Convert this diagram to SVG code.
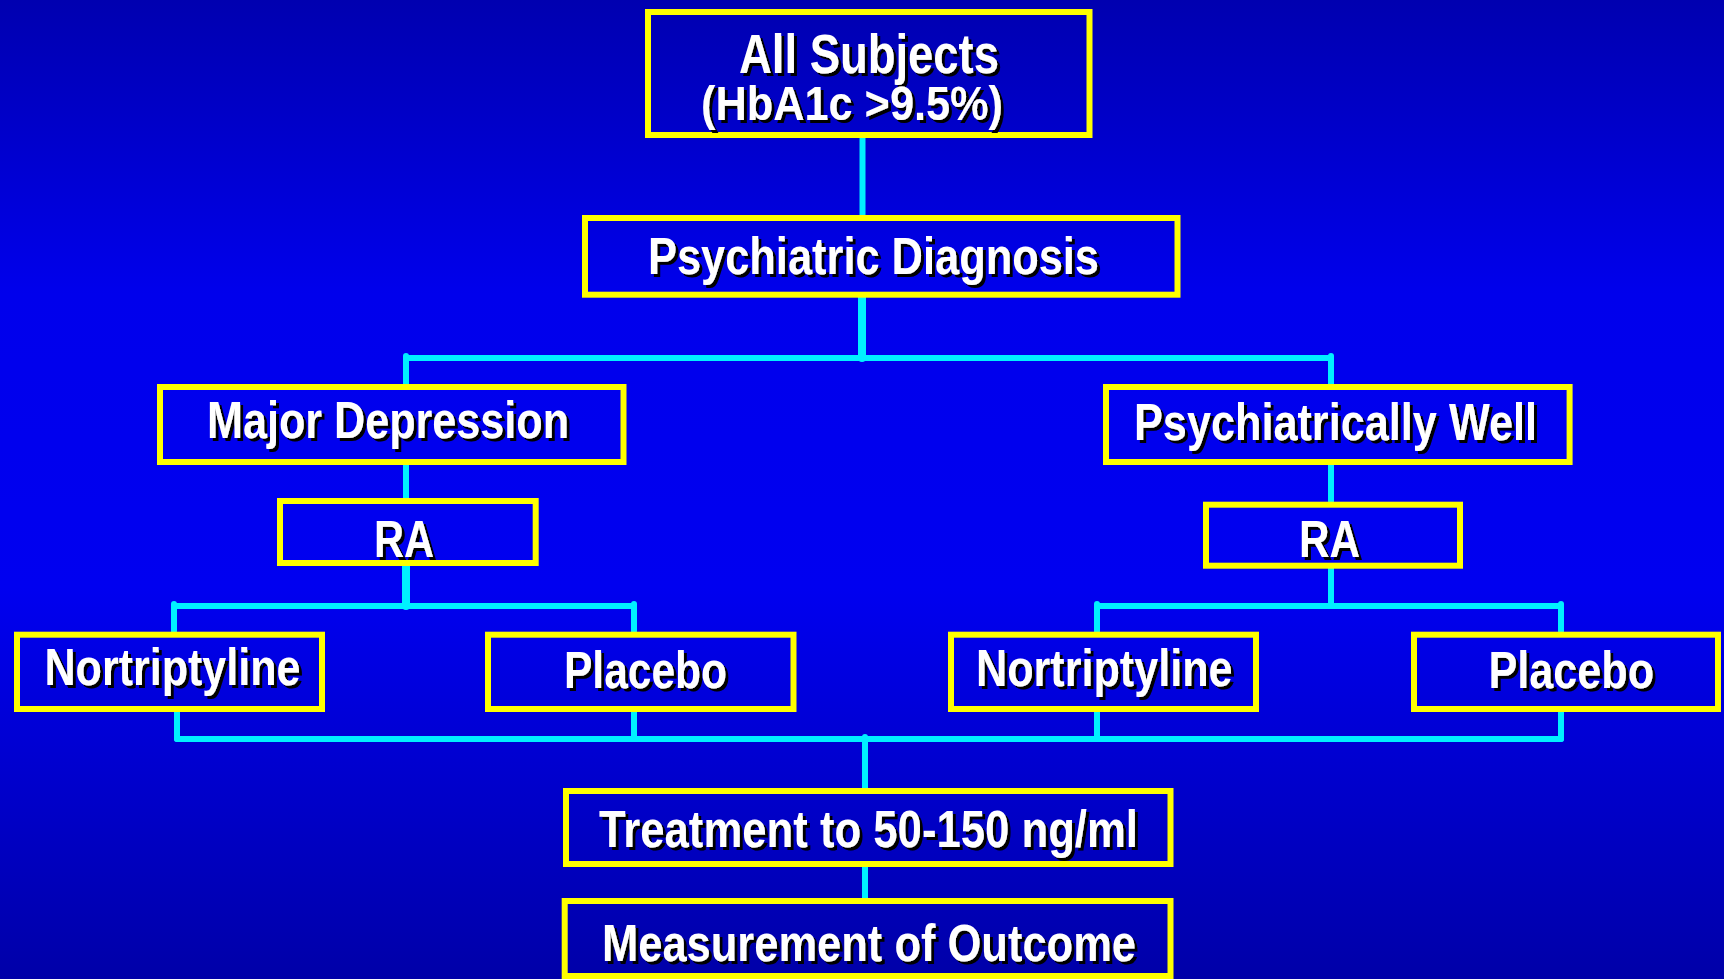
<svg xmlns="http://www.w3.org/2000/svg" width="1724" height="979" viewBox="0 0 1724 979">
  <defs>
    <linearGradient id="bg" x1="0" y1="0" x2="0" y2="1">
      <stop offset="0" stop-color="#0000B0"/>
      <stop offset="0.3" stop-color="#0000EC"/>
      <stop offset="0.6" stop-color="#0000F0"/>
      <stop offset="1" stop-color="#0000A8"/>
    </linearGradient>
    <filter id="sh" x="-10%" y="-20%" width="130%" height="150%">
      <feDropShadow dx="3" dy="3" stdDeviation="0" flood-color="#000000" flood-opacity="1"/>
    </filter>
    <style>
      .box { fill: none; stroke: #FFFF00; stroke-width: 6; }
      .lbl { font-family: "Liberation Sans Narrow", "Liberation Sans", Arial, sans-serif; font-weight: bold; fill: #FFFFFF; filter: url(#sh); }
      .c { stroke: #00F0FF; stroke-width: 6; stroke-linecap: round; fill: none; }
      .t { stroke-width: 8; }
    </style>
  </defs>
  <rect x="0" y="0" width="1724" height="979" fill="url(#bg)"/>

  <g id="connectors">
    <line class="c" x1="862.5" y1="138" x2="862.5" y2="215"/>
    <line class="c t" x1="862" y1="297" x2="862" y2="358"/>
    <line class="c" x1="406" y1="358" x2="1331" y2="358"/>
    <line class="c" x1="406" y1="356" x2="406" y2="384"/>
    <line class="c" x1="1331" y1="356" x2="1331" y2="384"/>
    <line class="c" x1="406" y1="465" x2="406" y2="498"/>
    <line class="c" x1="1331" y1="465" x2="1331" y2="501"/>
    <line class="c t" x1="406" y1="566" x2="406" y2="606"/>
    <line class="c" x1="174" y1="606" x2="634" y2="606"/>
    <line class="c" x1="174" y1="604" x2="174" y2="631"/>
    <line class="c" x1="634" y1="604" x2="634" y2="631"/>
    <line class="c" x1="1331" y1="568" x2="1331" y2="606"/>
    <line class="c" x1="1097" y1="606" x2="1561" y2="606"/>
    <line class="c" x1="1097" y1="604" x2="1097" y2="631"/>
    <line class="c" x1="1561" y1="604" x2="1561" y2="631"/>
    <line class="c" x1="177" y1="712" x2="177" y2="739"/>
    <line class="c" x1="634" y1="712" x2="634" y2="739"/>
    <line class="c" x1="1097" y1="712" x2="1097" y2="739"/>
    <line class="c" x1="1561" y1="712" x2="1561" y2="739"/>
    <line class="c" x1="177" y1="739" x2="1561" y2="739"/>
    <line class="c" x1="865" y1="737" x2="865" y2="788"/>
    <line class="c" x1="865" y1="867" x2="865" y2="900"/>
  </g>

  <g id="all-subjects">
    <rect class="box" x="648" y="12" width="441.5" height="123"/>
    <text class="lbl"><tspan x="739" y="73" font-size="56" textLength="260" lengthAdjust="spacingAndGlyphs">All Subjects</tspan><tspan x="701" y="120" font-size="49" textLength="302" lengthAdjust="spacingAndGlyphs">(HbA1c &gt;9.5%)</tspan></text>
  </g>

  <g id="psychiatric-diagnosis">
    <rect class="box" x="585" y="218" width="592.5" height="76.7"/>
    <text class="lbl" x="648" y="274" font-size="52" textLength="451" lengthAdjust="spacingAndGlyphs">Psychiatric Diagnosis</text>
  </g>

  <g id="major-depression">
    <rect class="box" x="160" y="387" width="463.5" height="75"/>
    <text class="lbl" x="207" y="438" font-size="52" textLength="362" lengthAdjust="spacingAndGlyphs">Major Depression</text>
  </g>

  <g id="psychiatrically-well">
    <rect class="box" x="1106" y="387" width="463.6" height="75"/>
    <text class="lbl" x="1134" y="440" font-size="52" textLength="403" lengthAdjust="spacingAndGlyphs">Psychiatrically Well</text>
  </g>

  <g id="ra-left">
    <rect class="box" x="280" y="501" width="255.7" height="62"/>
    <text class="lbl" x="374" y="557" font-size="52" textLength="60" lengthAdjust="spacingAndGlyphs">RA</text>
  </g>

  <g id="ra-right">
    <rect class="box" x="1206" y="504.7" width="254" height="61"/>
    <text class="lbl" x="1299" y="557" font-size="52" textLength="61" lengthAdjust="spacingAndGlyphs">RA</text>
  </g>

  <g id="nortriptyline-left">
    <rect class="box" x="17" y="634.7" width="305" height="74.3"/>
    <text class="lbl" x="44.5" y="685" font-size="52" textLength="256" lengthAdjust="spacingAndGlyphs">Nortriptyline</text>
  </g>

  <g id="placebo-left">
    <rect class="box" x="488" y="634.7" width="305.5" height="74.3"/>
    <text class="lbl" x="564" y="688" font-size="52" textLength="163" lengthAdjust="spacingAndGlyphs">Placebo</text>
  </g>

  <g id="nortriptyline-right">
    <rect class="box" x="951" y="634.7" width="305" height="74.3"/>
    <text class="lbl" x="976" y="686" font-size="52" textLength="256.6" lengthAdjust="spacingAndGlyphs">Nortriptyline</text>
  </g>

  <g id="placebo-right">
    <rect class="box" x="1414" y="634.7" width="304" height="74.3"/>
    <text class="lbl" x="1488.5" y="688" font-size="52" textLength="165.5" lengthAdjust="spacingAndGlyphs">Placebo</text>
  </g>

  <g id="treatment">
    <rect class="box" x="566" y="791" width="604.5" height="73"/>
    <text class="lbl" x="599" y="847" font-size="52" textLength="539" lengthAdjust="spacingAndGlyphs">Treatment to 50-150 ng/ml</text>
  </g>

  <g id="measurement">
    <rect class="box" x="564.7" y="901" width="605.8" height="75"/>
    <text class="lbl" x="602" y="961" font-size="52" textLength="534" lengthAdjust="spacingAndGlyphs">Measurement of Outcome</text>
  </g>
</svg>
